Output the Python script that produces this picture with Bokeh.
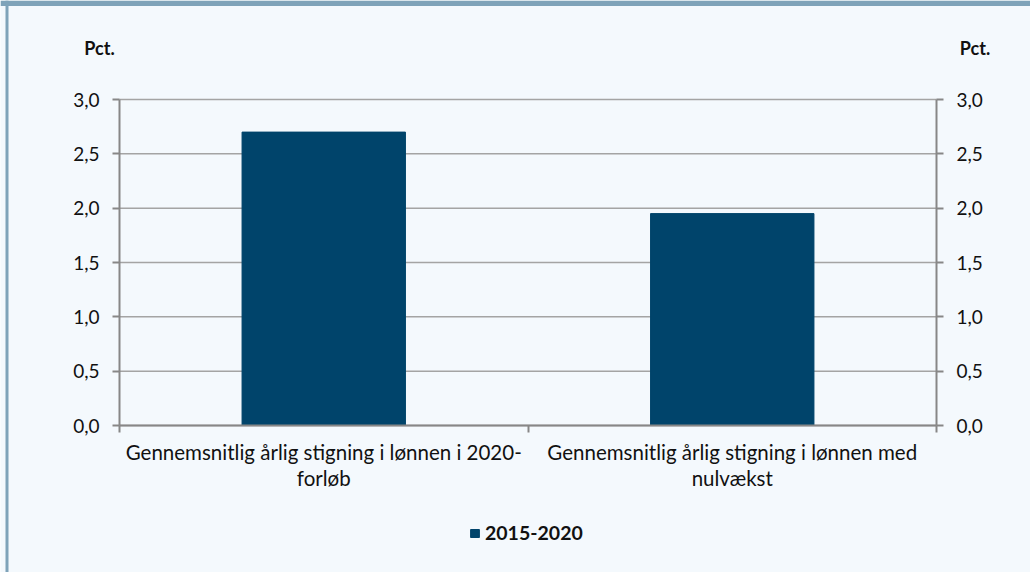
from bokeh.plotting import figure
from bokeh.models import (Range1d, LinearAxis, FixedTicker, Label, Legend, LegendItem, BoxAnnotation)
from bokeh.embed import file_html
from bokeh.resources import INLINE

categories = ["Gennemsnitlig årlig stigning i lønnen i 2020-\nforløb",
              "Gennemsnitlig årlig stigning i lønnen med\nnulvækst"]
series_name = "2015-2020"
values = [2.70, 1.95]
y_ticks = [0.0, 0.5, 1.0, 1.5, 2.0, 2.5, 3.0]
y_tick_labels = ["0,0", "0,5", "1,0", "1,5", "2,0", "2,5", "3,0"]
unit_label = "Pct."

BG = "#f4f9fd"
BAND = "#7fa3b9"
BAR = "#00446b"
AXIS = "#878787"
GRID = "#a4a4a4"
FONT = "Lato"
TXT = "#111111"

W, H = 1030, 572
# pixel placement of the plot area inside the canvas
PX_LEFT, PX_RIGHT, PX_TOP, PX_BOTTOM = 119, 936, 99, 425
y_max = y_ticks[-1]
n = len(categories)
ppx = (PX_RIGHT - PX_LEFT) / n
ppy = (PX_BOTTOM - PX_TOP) / y_max
x_start = -PX_LEFT / ppx
x_end = n + (W - PX_RIGHT) / ppx
y_end = y_max + PX_TOP / ppy
y_start = -(H - PX_BOTTOM) / ppy

p = figure(width=W, height=H, min_border=0,
           x_range=Range1d(x_start, x_end), y_range=Range1d(y_start, y_end),
           output_backend="svg", toolbar_location=None,
           x_axis_location=None, y_axis_location=None)
p.background_fill_color = BG
p.border_fill_color = BG
p.outline_line_color = None
p.xgrid.visible = False
p.ygrid.visible = False

# decorative bands (top and left)
p.add_layout(BoxAnnotation(left=x_start, right=x_end, top=y_end, bottom=y_end - 5.5 / ppy,
                           fill_color=BAND, fill_alpha=1, line_color=None))
p.add_layout(BoxAnnotation(left=x_start + 5 / ppx, right=x_start + 8 / ppx, top=y_end, bottom=y_start,
                           fill_color=BAND, fill_alpha=1, line_color=None))

# gridlines at the y ticks, spanning the category area
p.segment(x0=[0] * len(y_ticks), x1=[n] * len(y_ticks), y0=y_ticks, y1=y_ticks,
          line_color=GRID, line_width=1.5)

x_pos = [i + 0.5 for i in range(n)]
r = p.vbar(x=x_pos, top=values, width=0.4, color=BAR)

yt = FixedTicker(ticks=y_ticks)
overrides = {t: l for t, l in zip(y_ticks, y_tick_labels)}
for side, loc in [("left", 0), ("right", n)]:
    ax = LinearAxis(ticker=yt, major_label_overrides=overrides, fixed_location=loc, bounds=(0, y_max))
    ax.axis_line_color = AXIS
    ax.axis_line_width = 2
    ax.major_tick_line_color = AXIS
    ax.major_tick_line_width = 2
    ax.major_tick_in = 0
    ax.major_tick_out = 7
    ax.minor_tick_line_color = None
    ax.major_label_text_font = FONT
    ax.major_label_text_font_size = "19px"
    ax.major_label_text_color = TXT
    ax.major_label_standoff = 13
    p.add_layout(ax, side)

bt = FixedTicker(ticks=list(range(n + 1)))
bax = LinearAxis(ticker=bt, fixed_location=0, bounds=(0, n),
                 major_label_overrides={i: "" for i in range(n + 1)})
bax.axis_line_color = AXIS
bax.axis_line_width = 2
bax.major_tick_line_color = AXIS
bax.major_tick_line_width = 2
bax.major_tick_in = 0
bax.major_tick_out = 7
bax.minor_tick_line_color = None
bax.major_label_text_font_size = "1px"
p.add_layout(bax, "below")

for xp, cat in zip(x_pos, categories):
    p.add_layout(Label(x=xp, y=-14 / ppy, text=cat, text_align="center", text_baseline="top",
                       text_font=FONT, text_font_size="20.5px", text_color=TXT,
                       text_line_height=1.1))

p.add_layout(Label(x=-20 / ppx, y=y_max + 52 / ppy, text=unit_label, text_align="center",
                   text_baseline="middle", text_font=FONT, text_font_size="18px",
                   text_font_style="bold", text_color=TXT))
p.add_layout(Label(x=n + 38.5 / ppx, y=y_max + 52 / ppy, text=unit_label, text_align="center",
                   text_baseline="middle", text_font=FONT, text_font_size="18px",
                   text_font_style="bold", text_color=TXT))

legend = Legend(items=[LegendItem(label=series_name, renderers=[r])], location=(469, 28),
                orientation="horizontal", background_fill_alpha=0, border_line_color=None,
                padding=0, margin=0, glyph_width=11, glyph_height=10, label_standoff=5,
                label_text_font=FONT, label_text_font_size="19.5px", label_text_font_style="bold",
                label_text_color=TXT)
p.add_layout(legend, "center")

open("out.html", "w").write(file_html(p, INLINE))
